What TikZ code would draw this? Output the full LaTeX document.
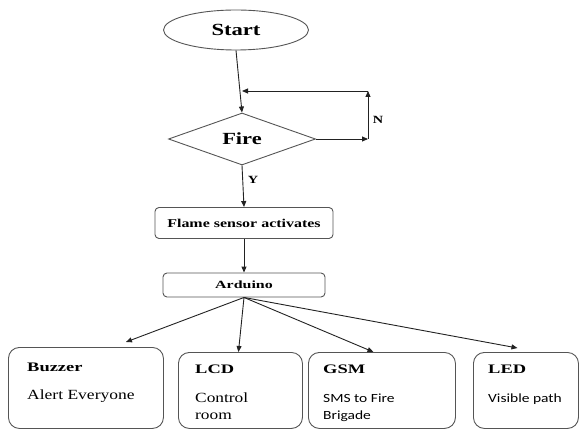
\documentclass[tikz,border=0pt]{standalone}
\usepackage{fontspec}
\usepackage{graphicx}
\setmainfont{Liberation Serif}
\newfontfamily\calib{Carlito}
\usetikzlibrary{shapes.geometric,arrows.meta}
\definecolor{edge}{HTML}{555555}
\definecolor{wire}{HTML}{222222}
\newcommand{\wide}[2]{\scalebox{#1}[1]{#2}}
\tikzset{
  shp/.style={draw=edge, line width=0.9pt, inner sep=0pt},
  smallbox/.style={shp, rounded corners=4pt},
  bigbox/.style={shp, rounded corners=11pt, anchor=north west},
  flow/.style={draw=wire, line width=0.9pt, -{Triangle[length=6pt,width=5pt]}},
  ttl/.style={font=\bfseries\fontsize{13}{15}\selectfont, anchor=west, inner sep=0pt},
  body/.style={font=\fontsize{14}{16}\selectfont, anchor=west, inner sep=0pt},
  bodys/.style={font=\calib\fontsize{12.5}{15}\selectfont, anchor=west, inner sep=0pt},
  lbl/.style={font=\bfseries\fontsize{11}{13}\selectfont, inner sep=0pt}
}
\begin{document}
\begin{tikzpicture}[x=1pt,y=-1pt]
\useasboundingbox (0,0) rectangle (580,430);
% top part
\node[shp, ellipse, minimum width=145pt, minimum height=40pt,
      font=\bfseries\fontsize{17}{19}\selectfont] (start) at (236,30) {\wide{1.33}{Start}};
\node[shp, diamond, aspect=2.83, minimum width=147pt, minimum height=52pt,
      font=\bfseries\fontsize{17}{19}\selectfont] (fire) at (242,139) {\wide{1.32}{Fire}};
\node[smallbox, minimum width=178pt, minimum height=31pt,
      font=\bfseries\fontsize{12}{14}\selectfont] (flame) at (244,223) {\wide{1.33}{Flame sensor activates}};
\node[smallbox, minimum width=162pt, minimum height=24pt,
      font=\bfseries\fontsize{11}{13}\selectfont] (ard) at (244,285) {\wide{1.45}{Arduino}};
\coordinate (lr) at (368,139);
\coordinate (ur) at (368,91);
\coordinate (ul) at (242,91);
\draw[flow] (start.south) -- (fire.north);
\draw[flow] (fire.east) -- (lr);
\draw[flow] (lr) -- (ur);
\draw[flow] (ur) -- (ul);
\node[lbl] (nlab) at (378,120) {\wide{1.3}{N}};
\draw[flow] (fire.south) -- (flame.north);
\node[lbl] (ylab) at (253,180) {\wide{1.3}{Y}};
\draw[flow] (flame.south) -- (ard.north);
% bottom boxes
\node[bigbox, minimum width=155pt, minimum height=81pt] (buz) at (8,347) {};
\node[bigbox, minimum width=124pt, minimum height=76pt] (lcd) at (178,352) {};
\node[bigbox, minimum width=147pt, minimum height=76pt] (gsm) at (308,352) {};
\node[bigbox, minimum width=105pt, minimum height=76pt] (led) at (473,352) {};
\node[ttl] (buzt) at (27,367) {\wide{1.42}{Buzzer}};
\node[body] (buzb) at (27,396) {\wide{1.25}{Alert Everyone}};
\node[ttl] (lcdt) at (195,369) {\wide{1.42}{LCD}};
\node[body] (lcdb1) at (195,398) {\wide{1.24}{Control}};
\node[body] (lcdb2) at (195,416) {\wide{1.24}{room}};
\node[ttl] (gsmt) at (323,369) {\wide{1.42}{GSM}};
\node[bodys] (gsmb1) at (323,398) {\wide{1.24}{SMS to Fire}};
\node[bodys] (gsmb2) at (323,416) {\wide{1.24}{Brigade}};
\node[ttl] (ledt) at (488,369) {\wide{1.42}{LED}};
\node[bodys] (ledb) at (488,399) {\wide{1.24}{Visible path}};
\draw[flow] (ard.south) -- ([xshift=40pt,yshift=5pt]buz.north);
\draw[flow] (ard.south) -- ([xshift=-2pt]lcd.north);
\draw[flow] (ard.south) -- ([xshift=-8.5pt]gsm.north);
\draw[flow] (ard.south) -- ([xshift=-8.5pt,yshift=4pt]led.north);
\end{tikzpicture}
\end{document}
